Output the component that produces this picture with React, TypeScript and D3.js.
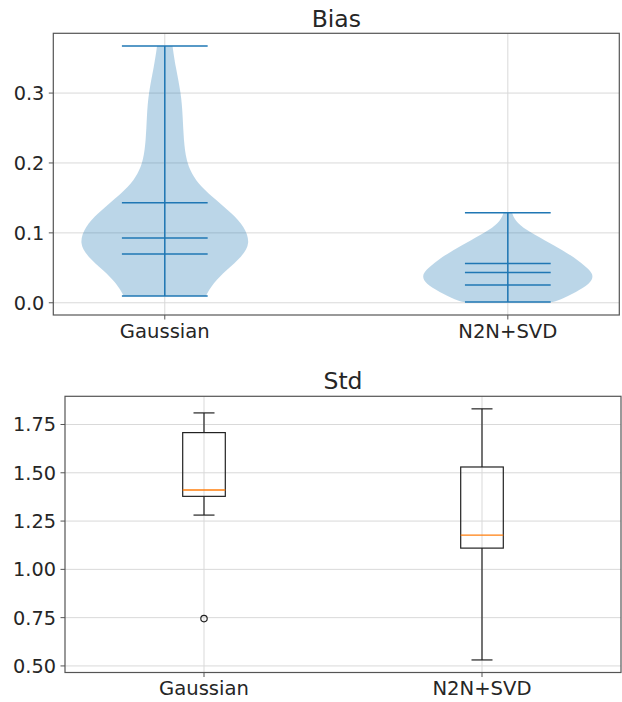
import React from "react";
import * as d3 from "d3";

// Categories shared by both panels
const categories = ["Gaussian", "N2N+SVD"];

// Bias panel: violin profiles (value, relative half-width) and summary lines
const gaussianProfile: [number, number][] = [
  [0.0098, 0.48], [0.0275, 0.56], [0.047, 0.72], [0.066, 0.9], [0.085, 1.0],
  [0.109, 0.93], [0.128, 0.78], [0.147, 0.6], [0.166, 0.42], [0.185, 0.31],
  [0.204, 0.25], [0.233, 0.22], [0.266, 0.21], [0.3, 0.19], [0.338, 0.125],
  [0.3674, 0.09],
];
const n2nProfile: [number, number][] = [
  [0.001, 0.52], [0.0036, 0.6], [0.0155, 0.8], [0.0275, 0.96], [0.038, 1.0],
  [0.0466, 0.96], [0.061, 0.82], [0.0753, 0.64], [0.0896, 0.43], [0.104, 0.21],
  [0.118, 0.08], [0.1288, 0.05],
];
const biasExtrema: [number, number][] = [
  [0.0098, 0.3674],
  [0.001, 0.1288],
];
const biasInnerLines: number[][] = [
  [0.0696, 0.0925, 0.1431],
  [0.0255, 0.0433, 0.0562],
];
const biasTicks = [0, 0.1, 0.2, 0.3];

// Std panel: box statistics
const stdWhiskerLow = [1.281, 0.531];
const stdQ1 = [1.378, 1.11];
const stdMedian = [1.411, 1.177];
const stdQ3 = [1.708, 1.53];
const stdWhiskerHigh = [1.81, 1.831];
const stdOutliers: number[][] = [[0.745], []];
const stdTicks = [0.5, 0.75, 1.0, 1.25, 1.5, 1.75];

const FONT = "DejaVu Sans, sans-serif";
const TEXT = "#262626";
const GRID = "#d9d9d9";
const SPINE = "#555";
const C0 = "#1f77b4";
const C1 = "#ff7f0e";

function Bias() {
  const x = d3.scaleLinear().domain([0.675, 2.325]).range([53.3, 619.3]);
  const y = d3.scaleLinear().domain([-0.0175, 0.3855]).range([315, 33.3]);
  const halfMax = x(1.25) - x(1);
  const capHalf = halfMax / 2;
  const profiles = [gaussianProfile, n2nProfile];

  return (
    <g>
      <text x={(x.range()[0] + x.range()[1]) / 2} y={26.7} fontSize={23.5} textAnchor="middle" fill={TEXT} fontFamily={FONT}>Bias</text>
      {biasTicks.map((t) => (
        <line key={t} x1={x.range()[0]} x2={x.range()[1]} y1={y(t)} y2={y(t)} stroke={GRID} strokeWidth={1} />
      ))}
      {categories.map((c, i) => (
        <line key={c} x1={x(i + 1)} x2={x(i + 1)} y1={y.range()[1]} y2={y.range()[0]} stroke={GRID} strokeWidth={1} />
      ))}
      {profiles.map((p, i) => {
        const cx = x(i + 1);
        const area = d3.area<[number, number]>()
          .y((d) => y(d[0]))
          .x0((d) => cx - d[1] * halfMax)
          .x1((d) => cx + d[1] * halfMax)
          .curve(d3.curveBasis);
        return <path key={i} d={area(p) ?? ""} fill={C0} fillOpacity={0.3} stroke="none" />;
      })}
      {categories.map((c, i) => {
        const cx = x(i + 1);
        const [lo, hi] = biasExtrema[i];
        const lines = [lo, hi, ...biasInnerLines[i]];
        return (
          <g key={c} stroke={C0} strokeWidth={1.5}>
            <line x1={cx} x2={cx} y1={y(lo)} y2={y(hi)} />
            {lines.map((v, j) => (
              <line key={j} x1={cx - capHalf} x2={cx + capHalf} y1={y(v)} y2={y(v)} />
            ))}
          </g>
        );
      })}
      <rect x={x.range()[0]} y={y.range()[1]} width={x.range()[1] - x.range()[0]} height={y.range()[0] - y.range()[1]} fill="none" stroke={SPINE} strokeWidth={1.2} />
      {biasTicks.map((t) => (
        <g key={t}>
          <line x1={x.range()[0] - 4.5} x2={x.range()[0]} y1={y(t)} y2={y(t)} stroke={SPINE} />
          <text x={x.range()[0] - 9} y={y(t)} dy="0.36em" textAnchor="end" fontSize={19.3} fill={TEXT} fontFamily={FONT}>{d3.format(".1f")(t)}</text>
        </g>
      ))}
      {categories.map((c, i) => (
        <g key={c}>
          <line x1={x(i + 1)} x2={x(i + 1)} y1={y.range()[0]} y2={y.range()[0] + 4.5} stroke={SPINE} />
          <text x={x(i + 1)} y={337.7} textAnchor="middle" fontSize={19.6} fill={TEXT} fontFamily={FONT}>{c}</text>
        </g>
      ))}
    </g>
  );
}

function Std() {
  const x = d3.scaleLinear().domain([0.5, 2.5]).range([65, 621]);
  const y = d3.scaleLinear().domain([0.466, 1.896]).range([672.5, 396.3]);
  const boxHalf = 21.3;
  const capHalf = 10.5;

  return (
    <g>
      <text x={(x.range()[0] + x.range()[1]) / 2} y={389.3} fontSize={23.5} textAnchor="middle" fill={TEXT} fontFamily={FONT}>Std</text>
      {stdTicks.map((t) => (
        <line key={t} x1={x.range()[0]} x2={x.range()[1]} y1={y(t)} y2={y(t)} stroke={GRID} strokeWidth={1} />
      ))}
      {categories.map((c, i) => (
        <line key={c} x1={x(i + 1)} x2={x(i + 1)} y1={y.range()[1]} y2={y.range()[0]} stroke={GRID} strokeWidth={1} />
      ))}
      {categories.map((c, i) => {
        const cx = x(i + 1);
        return (
          <g key={c} fill="none" strokeWidth={1.2}>
            <line x1={cx} x2={cx} y1={y(stdQ3[i])} y2={y(stdWhiskerHigh[i])} stroke="#222" />
            <line x1={cx} x2={cx} y1={y(stdQ1[i])} y2={y(stdWhiskerLow[i])} stroke="#222" />
            <line x1={cx - capHalf} x2={cx + capHalf} y1={y(stdWhiskerHigh[i])} y2={y(stdWhiskerHigh[i])} stroke="#222" />
            <line x1={cx - capHalf} x2={cx + capHalf} y1={y(stdWhiskerLow[i])} y2={y(stdWhiskerLow[i])} stroke="#222" />
            <rect x={cx - boxHalf} y={y(stdQ3[i])} width={boxHalf * 2} height={y(stdQ1[i]) - y(stdQ3[i])} stroke="#222" />
            <line x1={cx - boxHalf} x2={cx + boxHalf} y1={y(stdMedian[i])} y2={y(stdMedian[i])} stroke={C1} strokeWidth={1.4} />
            {stdOutliers[i].map((o, j) => (
              <circle key={j} cx={cx} cy={y(o)} r={3.2} stroke="#222" />
            ))}
          </g>
        );
      })}
      <rect x={x.range()[0]} y={y.range()[1]} width={x.range()[1] - x.range()[0]} height={y.range()[0] - y.range()[1]} fill="none" stroke={SPINE} strokeWidth={1.2} />
      {stdTicks.map((t) => (
        <g key={t}>
          <line x1={x.range()[0] - 4.5} x2={x.range()[0]} y1={y(t)} y2={y(t)} stroke={SPINE} />
          <text x={x.range()[0] - 9} y={y(t)} dy="0.36em" textAnchor="end" fontSize={19.3} fill={TEXT} fontFamily={FONT}>{d3.format(".2f")(t)}</text>
        </g>
      ))}
      {categories.map((c, i) => (
        <g key={c}>
          <line x1={x(i + 1)} x2={x(i + 1)} y1={y.range()[0]} y2={y.range()[0] + 4.5} stroke={SPINE} />
          <text x={x(i + 1)} y={695} textAnchor="middle" fontSize={19.6} fill={TEXT} fontFamily={FONT}>{c}</text>
        </g>
      ))}
    </g>
  );
}

export default function App() {
  return (
    <svg width={622} height={702} style={{ position: "absolute", left: 0, top: 0, background: "#fff" }}>
      <rect width={622} height={702} fill="#fff" />
      <Bias />
      <Std />
    </svg>
  );
}
